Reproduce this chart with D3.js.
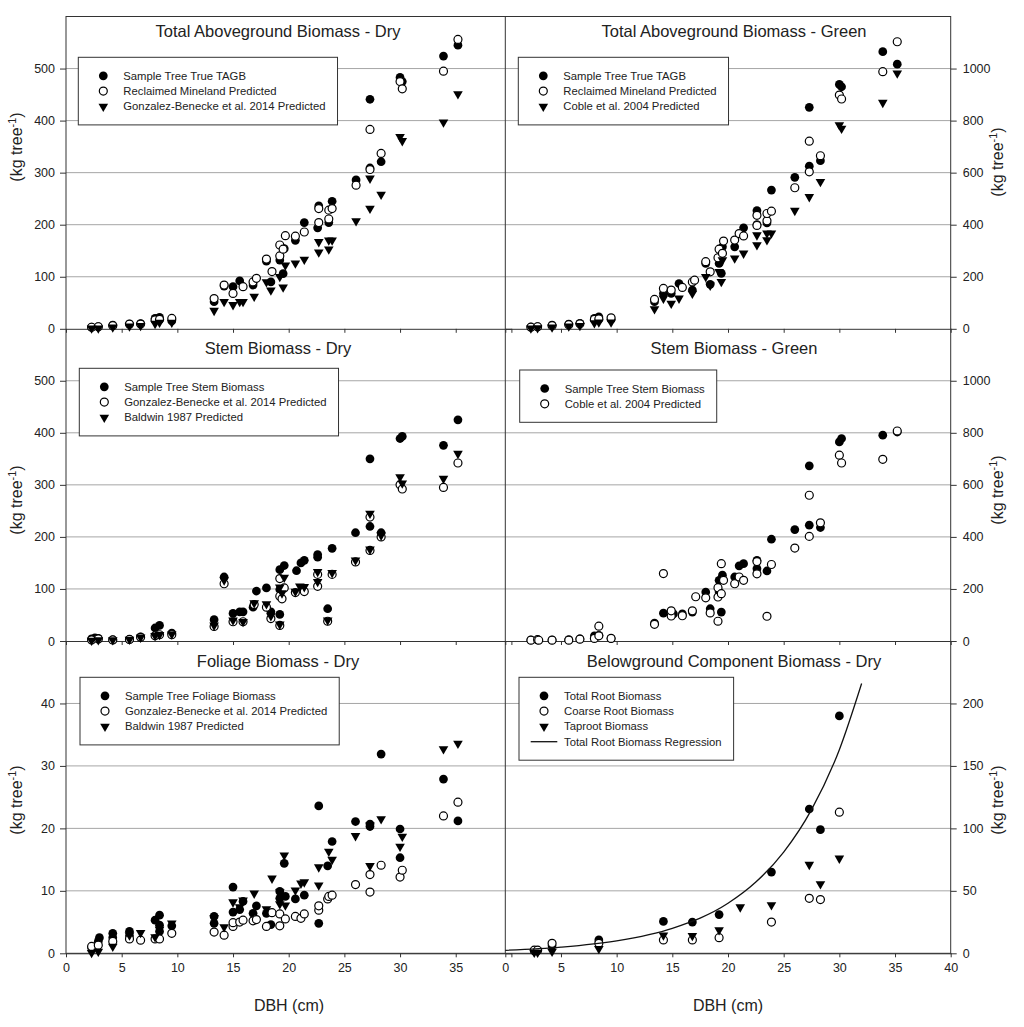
<!DOCTYPE html>
<html>
<head>
<meta charset="utf-8">
<script src="https://cdn.jsdelivr.net/npm/d3@7"></script>
<style>
  body { margin: 0; background: #fff; }
  svg { display: block; font-family: "Liberation Sans", Arial, sans-serif; }
</style>
</head>
<body>
<svg id="chart" width="1024" height="1027"></svg>
<script>
// ---- data: [DBH (cm), biomass (kg tree-1)] ----

// Total aboveground biomass - dry
const tagbDryTrue = [[2.3,3],[2.9,4],[4.2,7],[5.7,9],[6.7,10],[8.0,20],[8.4,22],[9.5,15],
  [13.3,52],[14.2,82],[15.0,81],[15.6,92],[16.8,84],[18.0,130],[18.4,90],[19.2,132],[19.5,106],
  [19.6,154],[20.6,170],[21.4,204],[22.6,194],[22.7,236],[23.6,204],[23.9,245],[26.05,286],
  [27.3,441],[27.3,309],[28.3,321],[30.0,483],[30.2,475],[33.9,524],[35.2,545]];
const tagbDryMineland = [[2.3,3],[2.9,4],[4.2,6],[5.7,9],[6.7,9],[8.0,17],[8.4,18],[9.5,20],
  [13.3,58],[14.2,84],[15.0,68],[15.9,81],[16.8,90],[17.1,97],[18.0,134],[18.5,110],[19.2,140],
  [19.2,161],[19.5,153],[19.7,179],[20.6,178],[21.4,186],[22.7,204],[22.7,231],[23.6,211],
  [23.6,228],[23.9,231],[26.05,276],[27.3,383],[27.3,306],[28.3,337],[30.0,475],[30.2,461],
  [33.9,495],[35.2,556]];
const tagbDryGB = [[2.3,1],[2.9,1],[4.2,3],[5.7,5],[6.7,6],[8.0,10],[8.4,12],[9.5,12],
  [13.3,35],[14.2,52],[15.0,46],[15.6,52],[15.9,52],[16.9,62],[18.0,90],[18.4,74],[19.2,100],
  [19.5,80],[19.7,122],[20.6,126],[21.4,133],[22.7,147],[22.7,167],[23.6,153],[23.6,170],
  [23.9,170],[26.05,207],[27.3,231],[27.3,289],[28.3,258],[30.0,369],[30.2,361],[33.9,397],
  [35.2,451]];

// Total aboveground biomass - green
const tagbGreenTrue = [[2.3,7],[2.9,8],[4.2,14],[5.7,18],[6.7,21],[8.0,40],[8.4,46],[9.5,36],
  [13.4,104],[14.2,136],[14.9,136],[15.6,174],[16.8,149],[18.0,251],[18.4,171],[19.2,251],
  [19.4,213],[19.5,315],[20.6,315],[21.4,388],[22.6,454],[22.6,400],[23.5,407],[23.9,533],
  [26.0,582],[27.3,851],[27.3,625],[28.3,646],[30.0,939],[30.2,930],[33.9,1065],[35.2,1017]];
const tagbGreenMineland = [[2.3,6],[2.9,8],[4.2,12],[5.7,16],[6.7,19],[8.0,36],[8.4,38],[9.5,42],
  [13.4,113],[14.2,155],[14.9,149],[15.9,159],[16.8,180],[17.0,187],[18.0,258],[18.4,219],
  [19.1,273],[19.2,306],[19.5,290],[19.6,337],[20.6,341],[21.0,366],[21.4,357],[22.6,397],
  [22.6,436],[23.5,415],[23.5,443],[23.9,452],[26.0,542],[27.3,721],[27.3,603],[28.3,665],
  [30.0,898],[30.2,883],[33.9,988],[35.2,1103]];
const tagbGreenCoble = [[2.3,2],[2.9,3],[4.2,6],[5.7,10],[6.7,12],[8.0,22],[8.4,25],[9.5,25],
  [13.4,76],[14.2,117],[14.9,97],[15.6,117],[16.8,136],[18.0,200],[18.4,167],[19.2,219],
  [19.4,181],[19.5,264],[20.6,271],[21.4,290],[22.6,322],[22.6,360],[23.5,341],[23.5,367],
  [23.9,367],[26.0,454],[27.3,507],[28.3,565],[30.0,783],[30.2,770],[33.9,869],[35.2,982]];

// Stem biomass - dry
const stemDryTrue = [[2.3,4],[2.6,6],[2.9,5],[4.2,2],[5.7,3],[6.7,8],[8.0,25],[8.4,30],[9.5,15],
  [13.3,41],[14.2,123],[15.0,53],[15.6,56],[15.9,56],[16.8,65],[17.1,96],[18.0,102],[18.4,56],
  [19.2,51],[19.2,99],[19.2,137],[19.6,145],[20.7,135],[21.1,150],[21.4,155],[22.6,161],
  [22.6,166],[23.5,62],[23.9,178],[26.0,208],[27.3,220],[27.3,350],[28.3,208],[30.0,389],
  [30.2,393],[33.9,376],[35.2,425]];
const stemDryGB = [[2.3,2],[2.9,4],[4.2,2],[5.7,3],[6.7,7],[8.0,10],[8.4,12],[9.5,12],
  [13.3,28],[14.2,110],[15.0,37],[15.9,37],[16.9,70],[18.0,65],[18.4,43],[19.2,30],[19.2,86],
  [19.2,120],[19.4,81],[19.6,102],[20.6,93],[21.4,95],[22.6,105],[22.6,128],[23.5,38],
  [23.9,128],[26.0,152],[27.3,174],[27.3,238],[28.3,200],[30.0,300],[30.2,292],[33.9,295],
  [35.2,342]];
const stemDryBaldwin = [[2.3,1],[2.9,2],[4.2,2],[5.7,3],[6.7,7],[8.0,10],[8.4,12],[9.5,13],
  [13.3,30],[14.2,117],[15.0,40],[15.9,37],[16.9,73],[18.0,71],[18.4,48],[19.2,32],[19.2,103],
  [19.4,92],[19.6,122],[20.6,95],[21.0,105],[21.4,104],[22.6,114],[22.6,133],[23.5,40],
  [23.9,131],[26.0,155],[27.3,176],[27.3,245],[28.3,203],[30.0,315],[30.2,303],[33.9,312],
  [35.2,360]];

// Stem biomass - green
const stemGreenTrue = [[2.3,4],[2.9,4],[4.2,4],[5.7,5],[6.7,8],[8.0,20],[8.4,22],[9.5,10],
  [13.4,69],[14.2,107],[15.1,104],[15.9,104],[16.8,111],[18.0,188],[18.4,124],[19.2,189],
  [19.2,233],[19.4,111],[19.5,253],[20.6,246],[21.0,289],[21.4,297],[22.6,278],[22.6,310],
  [23.5,269],[23.9,391],[26.0,428],[27.3,445],[27.3,673],[28.3,436],[30.0,765],[30.2,778],
  [33.9,791],[35.2,803]];
const stemGreenCoble = [[2.3,3],[2.9,5],[3.0,3],[4.2,3],[5.7,3],[6.7,7],[8.0,10],[8.4,57],
  [8.4,20],[9.5,10],[13.4,64],[14.2,259],[14.9,96],[14.9,116],[15.9,97],[16.8,116],[17.1,170],
  [18.0,166],[18.4,108],[19.1,76],[19.1,169],[19.1,205],[19.4,182],[19.4,297],[19.6,233],
  [20.6,220],[21.0,246],[21.4,233],[22.6,258],[22.6,305],[23.5,95],[23.9,294],[26.0,357],
  [27.3,402],[27.3,560],[28.3,454],[30.0,714],[30.2,684],[33.9,698],[35.2,807]];

// Foliage biomass - dry
const foliageTrue = [[2.3,0.9],[2.9,1.9],[3.0,2.5],[4.2,3.2],[4.2,2.5],[5.7,3.5],[5.7,2.8],
  [8.0,5.3],[8.4,6.1],[8.4,4.5],[8.4,3.5],[9.5,4.4],[13.3,4.8],[13.3,5.9],[15.0,10.6],[15.0,6.6],
  [15.6,7.0],[15.9,8.3],[16.8,6.4],[17.1,7.6],[18.0,6.4],[18.4,4.6],[19.2,8.8],[19.2,9.9],
  [19.6,14.4],[19.7,9.1],[20.6,8.7],[21.4,9.3],[22.7,23.6],[22.7,4.8],[23.5,14.0],[23.9,17.9],
  [26.0,21.1],[27.3,20.3],[27.3,20.7],[28.3,31.9],[30.0,19.9],[30.0,15.3],[33.9,27.9],[35.2,21.2]];
const foliageGB = [[2.3,1.1],[2.9,1.3],[4.2,1.9],[5.7,2.3],[6.7,2.1],[8.0,2.3],[8.4,2.3],[9.5,3.2],
  [13.3,3.4],[14.2,2.9],[15.0,4.3],[15.0,4.9],[15.6,5.0],[15.9,5.3],[16.8,5.2],[17.1,5.4],
  [18.0,4.3],[18.5,6.5],[19.2,4.4],[19.2,6.3],[19.7,5.5],[20.6,5.9],[21.1,5.6],[21.4,6.3],
  [22.7,6.9],[22.7,7.6],[23.5,8.7],[23.6,9.1],[23.9,9.3],[26.0,11.0],[27.3,9.8],[27.3,12.6],
  [28.3,14.1],[30.0,12.2],[30.2,13.3],[33.9,22.0],[35.2,24.2]];
const foliageBaldwin = [[2.3,0.1],[2.9,0.3],[4.2,1.1],[5.7,2.9],[6.7,3.3],[8.0,2.6],[8.4,3.8],
  [9.5,4.8],[13.3,5.7],[14.2,4.2],[15.0,8.2],[15.6,7.4],[15.9,8.5],[16.9,9.6],[18.0,7.1],
  [18.5,12.0],[19.2,7.9],[19.2,9.8],[19.6,15.7],[19.7,7.7],[20.6,10.1],[21.1,11.2],[21.4,11.4],
  [22.7,10.9],[22.7,13.8],[23.6,16.3],[23.9,15.0],[26.0,18.8],[27.3,14.0],[27.3,20.5],[28.3,21.5],
  [30.0,17.1],[30.2,18.7],[33.9,32.7],[35.2,33.6]];

// Belowground component biomass - dry
const rootTotal = [[2.6,2],[2.9,2.4],[4.2,6],[8.4,10.7],[14.2,25.5],[16.8,25],[19.2,31],
  [23.9,65],[27.3,115.5],[28.3,99],[30.0,190]];
const rootCoarse = [[2.6,2.5],[2.9,2.5],[4.2,8],[8.4,8],[14.2,10.7],[16.8,10.7],[19.2,12.5],
  [23.9,25],[27.3,44],[28.3,43],[30.0,113]];
const rootTap = [[2.6,0.6],[2.9,0.6],[4.2,1.4],[8.4,3.6],[14.2,14.5],[16.8,14],[19.2,18.7],
  [21.1,37],[23.9,38.7],[27.3,71],[28.3,55.5],[30.0,76]];
// regression curve
const rootCurve = [[0,2.4],[5,4.9],[10,9.9],[15,20],[20,40],[22.5,57],[25,81],[27.5,115],
  [30,163],[32,216]];

// tick labels
const dbhTicks = [0, 5, 10, 15, 20, 25, 30, 35, 40];
const ticksKg600 = [0, 100, 200, 300, 400, 500];
const ticksKg1200 = [0, 200, 400, 600, 800, 1000];
const ticksFoliage = [0, 10, 20, 30, 40];
const ticksRoot = [0, 50, 100, 150, 200];

// ---- layout ----
const svg = d3.select("#chart");
const X0 = [66, 505.3], PW = 445.4;
const TOP = [16.5, 328.7, 641], PH = 312.3;
const TITLE_Y = [37, 353.5, 666.5];
const TITLE_X = [278, 734];
const LABEL_Y = [[147, 500, 800], [162, 490, 800]];
const INK = "#222", FRAME = "#333", GRID = "#a6a6a6";
const symFilled = d3.symbol(d3.symbolCircle, 60)();
const symOpen = d3.symbol(d3.symbolCircle, 50)();
const symTri = d3.symbol(d3.symbolTriangle, 40)();

const panels = [
  { col: 0, row: 0, title: "Total Aboveground Biomass - Dry", yMax: 600, ticks: ticksKg600,
    legend: [78.3, 57.3], series: [
      { name: "Sample Tree True TAGB", kind: "filled", data: tagbDryTrue },
      { name: "Reclaimed Mineland Predicted", kind: "open", data: tagbDryMineland },
      { name: "Gonzalez-Benecke et al. 2014 Predicted", kind: "tri", data: tagbDryGB }] },
  { col: 1, row: 0, title: "Total Aboveground Biomass - Green", yMax: 1200, ticks: ticksKg1200,
    legend: [518.3, 57.3], series: [
      { name: "Sample Tree True TAGB", kind: "filled", data: tagbGreenTrue },
      { name: "Reclaimed Mineland Predicted", kind: "open", data: tagbGreenMineland },
      { name: "Coble et al. 2004 Predicted", kind: "tri", data: tagbGreenCoble }] },
  { col: 0, row: 1, title: "Stem Biomass - Dry", yMax: 600, ticks: ticksKg600,
    legend: [79.3, 368.3], series: [
      { name: "Sample Tree Stem Biomass", kind: "filled", data: stemDryTrue },
      { name: "Gonzalez-Benecke et al. 2014 Predicted", kind: "open", data: stemDryGB },
      { name: "Baldwin 1987 Predicted", kind: "tri", data: stemDryBaldwin }] },
  { col: 1, row: 1, title: "Stem Biomass - Green", yMax: 1200, ticks: ticksKg1200,
    legend: [519.7, 370], series: [
      { name: "Sample Tree Stem Biomass", kind: "filled", data: stemGreenTrue },
      { name: "Coble et al. 2004 Predicted", kind: "open", data: stemGreenCoble }] },
  { col: 0, row: 2, title: "Foliage Biomass - Dry", yMax: 50, ticks: ticksFoliage,
    legend: [80, 677.3], series: [
      { name: "Sample Tree Foliage Biomass", kind: "filled", data: foliageTrue },
      { name: "Gonzalez-Benecke et al. 2014 Predicted", kind: "open", data: foliageGB },
      { name: "Baldwin 1987 Predicted", kind: "tri", data: foliageBaldwin }] },
  { col: 1, row: 2, title: "Belowground Component Biomass - Dry", yMax: 250, ticks: ticksRoot,
    legend: [519, 677.3], series: [
      { name: "Total Root Biomass", kind: "filled", data: rootTotal },
      { name: "Coarse Root Biomass", kind: "open", data: rootCoarse },
      { name: "Taproot Biomass", kind: "tri", data: rootTap },
      { name: "Total Root Biomass Regression", kind: "line", data: rootCurve }] }
];

// draw one marker kind into a selection of <path>
function styleMark(sel, kind) {
  if (kind === "filled") sel.attr("d", symFilled).attr("fill", "#000");
  else if (kind === "open") sel.attr("d", symOpen).attr("fill", "#fff").attr("stroke", "#000").attr("stroke-width", 1.2);
  else sel.attr("d", symTri).attr("fill", "#000");
}

function kgLabel(g) {
  const t = g.append("text").attr("text-anchor", "middle").attr("font-size", 16).attr("fill", INK);
  t.append("tspan").text("(kg tree");
  t.append("tspan").attr("font-size", 11).attr("baseline-shift", "super").text("-1");
  t.append("tspan").text(")");
}

// ---- pass 1: grids and axes ----
panels.forEach(p => {
  p.x = d3.scaleLinear().domain([0, 40]).range([X0[p.col], X0[p.col] + PW]);
  p.y = d3.scaleLinear().domain([0, p.yMax]).range([TOP[p.row] + PH, TOP[p.row]]);
  const right = p.col === 0 ? X0[1] : X0[1] + PW;

  svg.append("g").selectAll("line")
    .data(p.ticks.filter(t => t > 0))
    .join("line")
    .attr("x1", X0[p.col]).attr("x2", right)
    .attr("y1", d => p.y(d)).attr("y2", d => p.y(d))
    .attr("stroke", GRID).attr("stroke-width", 1);

  // y axis: left panels on the left, right panels on the right
  const yAxis = (p.col === 0 ? d3.axisLeft(p.y).tickPadding(5) : d3.axisRight(p.y).tickPadding(6))
    .tickValues(p.ticks).tickSize(6).tickSizeOuter(0).tickFormat(d3.format("d"));
  const ya = svg.append("g")
    .attr("transform", `translate(${p.col === 0 ? X0[0] : X0[1] + PW},0)`)
    .call(yAxis);
  ya.select(".domain").remove();
  ya.selectAll("line").attr("stroke", FRAME);
  ya.selectAll("text").attr("font-size", 12.5).attr("fill", INK).attr("font-family", null);

  // x axis on every row, labels only on the bottom row
  const xa = svg.append("g")
    .attr("transform", `translate(0,${TOP[p.row] + PH})`)
    .call(d3.axisBottom(p.x).tickValues(dbhTicks).tickSize(4).tickPadding(6).tickSizeOuter(0)
      .tickFormat(d => (p.row === 2 && !(p.col === 0 && d === 40)) ? d : ""));
  xa.select(".domain").attr("stroke", FRAME);
  xa.selectAll("line").attr("stroke", FRAME);
  xa.selectAll("text").attr("font-size", 12.5).attr("fill", INK).attr("font-family", null);

  const lab = svg.append("g")
    .attr("transform", `translate(${p.col === 0 ? 22 : 1003},${LABEL_Y[p.col][p.row]}) rotate(-90)`);
  kgLabel(lab);
});

// outer frame and divider
svg.append("rect")
  .attr("x", X0[0]).attr("y", TOP[0])
  .attr("width", X0[1] + PW - X0[0]).attr("height", TOP[2] + PH - TOP[0])
  .attr("fill", "none").attr("stroke", FRAME).attr("stroke-width", 1);
svg.append("line")
  .attr("x1", X0[1]).attr("x2", X0[1]).attr("y1", TOP[0]).attr("y2", TOP[2] + PH)
  .attr("stroke", FRAME);

// x axis titles
[0, 1].forEach(c => {
  svg.append("text")
    .attr("x", c === 0 ? 289 : 728).attr("y", 1011)
    .attr("text-anchor", "middle").attr("font-size", 16).attr("fill", INK)
    .text("DBH (cm)");
});

// ---- pass 2: marks, legends, titles ----
panels.forEach(p => {
  const g = svg.append("g");

  p.series.forEach(s => {
    if (s.kind === "line") {
      g.append("path")
        .datum(s.data)
        .attr("d", d3.line().x(d => p.x(d[0])).y(d => p.y(d[1])).curve(d3.curveMonotoneX))
        .attr("fill", "none").attr("stroke", "#111").attr("stroke-width", 1.3);
      return;
    }
    g.append("g").selectAll("path")
      .data(s.data)
      .join("path")
      .attr("transform", d => `translate(${p.x(d[0])},${p.y(d[1])})${s.kind === "tri" ? " rotate(180)" : ""}`)
      .call(styleMark, s.kind);
  });

  // legend
  const [lx, ly] = p.legend;
  const lg = svg.append("g");
  const box = lg.append("rect")
    .attr("x", lx).attr("y", ly)
    .attr("fill", "#fff").attr("stroke", FRAME).attr("stroke-width", 1);
  let maxEnd = 0;
  p.series.forEach((s, i) => {
    const cy = ly + 18.5 + i * 15.3;
    if (s.kind === "line") {
      lg.append("line").attr("x1", lx + 11.7).attr("x2", lx + 38.3)
        .attr("y1", cy).attr("y2", cy).attr("stroke", "#111").attr("stroke-width", 1.3);
    } else {
      lg.append("path")
        .attr("transform", `translate(${lx + 25},${cy})${s.kind === "tri" ? " rotate(180)" : ""}`)
        .call(styleMark, s.kind);
    }
    const t = lg.append("text")
      .attr("x", lx + 45).attr("y", cy + 4)
      .attr("font-size", 11.3).attr("fill", INK)
      .text(s.name);
    maxEnd = Math.max(maxEnd, lx + 45 + t.node().getComputedTextLength());
  });
  box.attr("width", maxEnd + 12 - lx)
    .attr("height", 18.5 + (p.series.length - 1) * 15.3 + 18.5);

  svg.append("text")
    .attr("x", TITLE_X[p.col]).attr("y", TITLE_Y[p.row])
    .attr("text-anchor", "middle").attr("font-size", 16.5).attr("fill", INK)
    .text(p.title);
});
</script>
</body>
</html>
